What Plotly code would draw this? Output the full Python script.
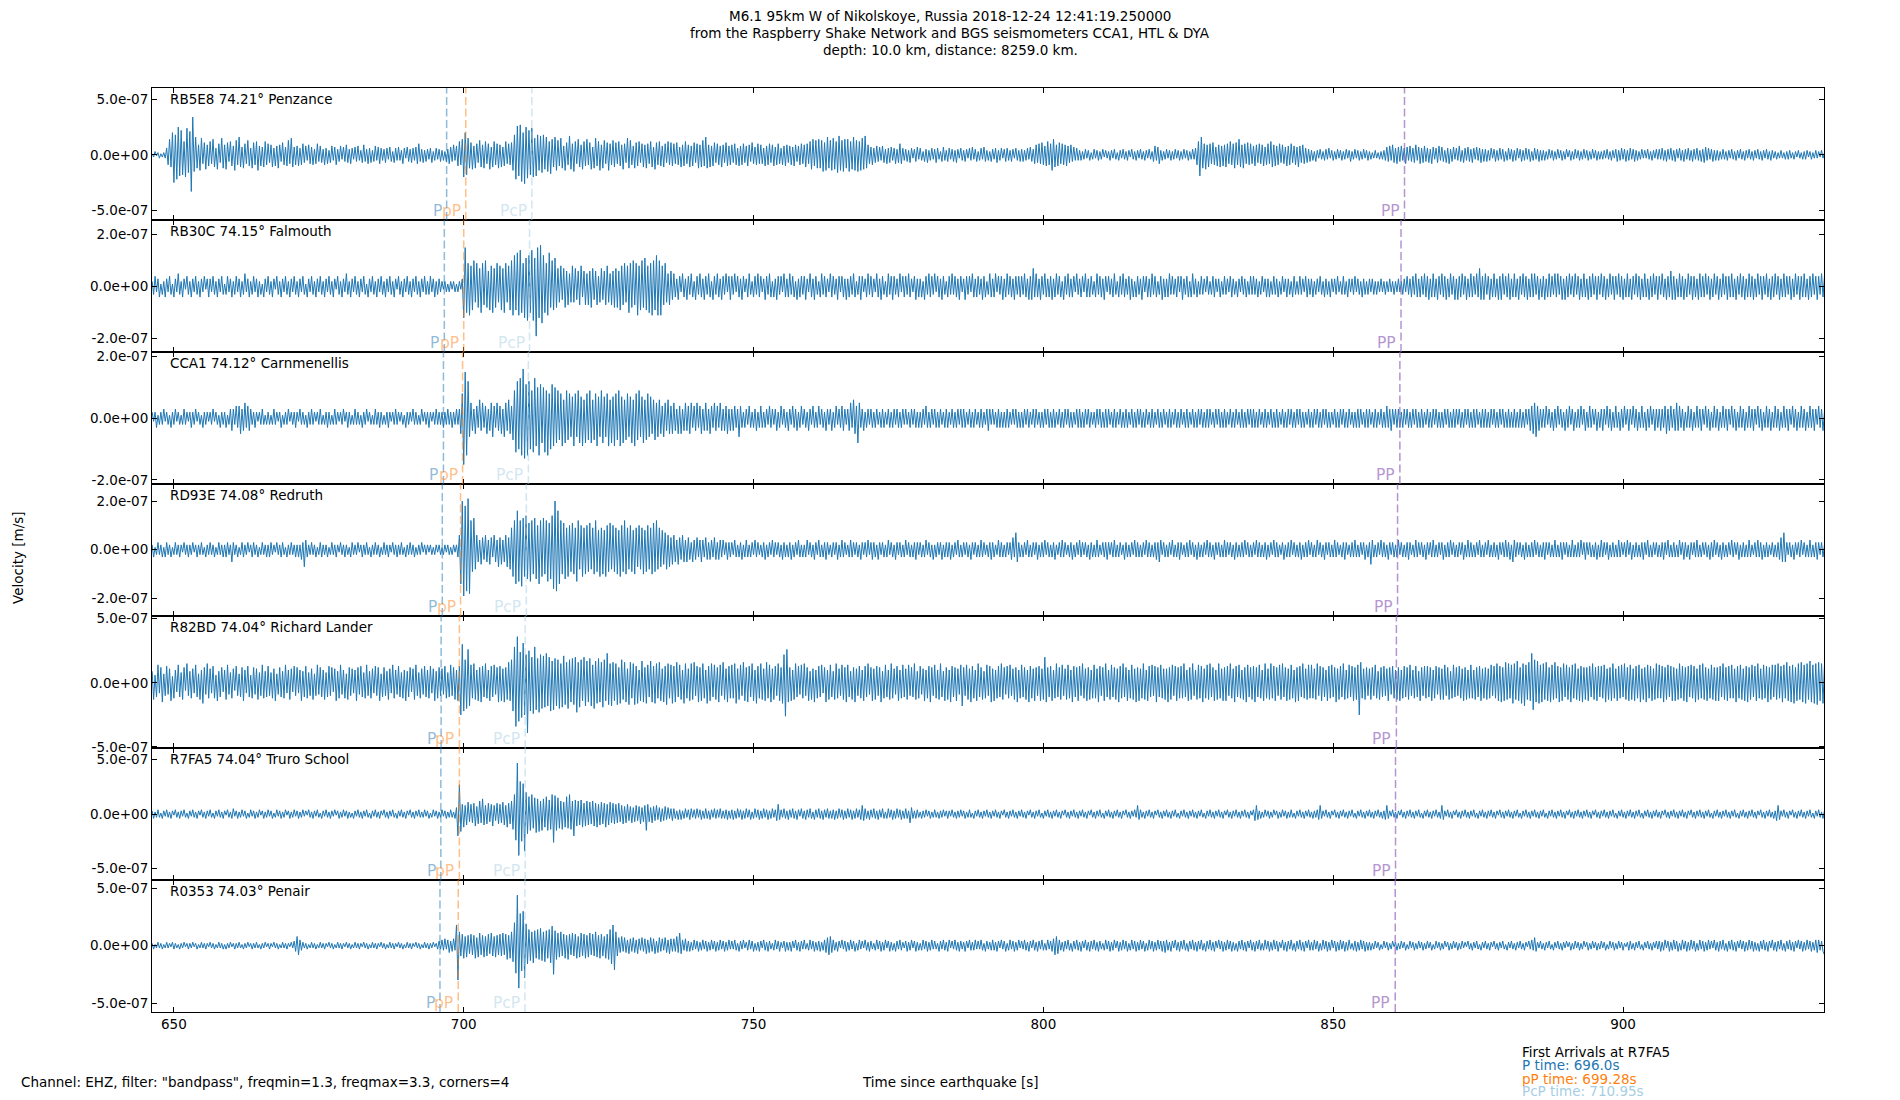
import plotly.graph_objects as go
from plotly.subplots import make_subplots

# Trace values, in units of 1e-8 m/s,
# one value every 0.25 s starting at 646.25 s after the earthquake.
# Each line below is 10 s of record.
t_start = 646.25
t_step = 0.25
amp_unit = 1e-8

rb5e8 = [
    1,-2,3,-1,2,-3,1,-2,2,-3, 6,-9,14,-11,20,-25,18,-22,25,-19, 22,-18,12,-20,24,-16,21,-33,34,-15, 16,-12,9,-14,15,-8,11,-13,9,-10,
    12,-8,14,-11,6,-13,10,-7,15,-12, 9,-13,11,-6,12,-10,8,-14,13,-9, 16,-11,7,-12,10,-8,13,-10,6,-12, 11,-9,12,-14,8,-10,7,-11,12,-9,
    10,-7,9,-11,6,-10,8,-12,9,-6, 11,-9,7,-10,13,-8,15,-11,7,-9, 8,-10,6,-9,10,-7,8,-5,9,-8, 7,-9,5,-8,10,-6,8,-7,5,-9,
    6,-8,4,-7,8,-5,7,-9,5,-6, 8,-4,7,-6,9,-7,5,-8,6,-4, 7,-6,8,-5,4,-7,9,-6,5,-8, 6,-7,4,-6,8,-5,7,-8,6,-5,
    5,-7,6,-4,7,-6,3,-7,6,-5, 7,-5,4,-8,6,-3,7,-6,5,-7, 6,-5,7,-8,10,-6,5,-7,4,-6, 5,-4,6,-7,3,-5,6,-4,5,-6,
    4,-5,3,-6,5,-8,7,-6,9,-5, 8,-10,12,-9,14,-20,20,-18,15,-12, 11,-13,8,-12,10,-7,13,-11,9,-12, 12,-8,10,-13,7,-11,12,-9,10,-12,
    9,-11,7,-10,12,-8,10,-9,11,-14, 18,-22,26,-19,27,-24,20,-26,25,-21, 22,-18,24,-20,15,-19,18,-14,17,-16, 18,-13,16,-15,12,-17,14,-11,16,-14,
    13,-10,15,-12,8,-14,11,-9,17,-13, 10,-15,12,-8,14,-11,9,-13,12,-10, 14,-9,11,-13,7,-12,15,-10,12,-14, 9,-12,13,-8,11,-14,10,-9,13,-11,
    11,-8,12,-10,9,-13,10,-7,15,-12, 13,-9,8,-12,11,-10,12,-7,10,-11, 9,-12,10,-8,12,-11,7,-13,11,-9, 12,-10,8,-11,10,-7,12,-9,11,-10,
    10,-8,11,-9,7,-11,9,-10,12,-8, 9,-11,8,-10,11,-7,10,-12,9,-11, 13,-10,16,-12,9,-11,8,-10,11,-7, 10,-9,8,-11,9,-7,11,-10,8,-9,
    9,-7,10,-9,6,-10,8,-9,10,-7, 8,-10,9,-6,11,-8,7,-9,10,-8, 9,-8,6,-10,8,-9,10,-7,9,-10, 7,-9,10,-8,6,-9,8,-10,9,-7,
    8,-9,7,-10,9,-6,8,-9,10,-8, 9,-11,10,-8,12,-13,14,-10,13,-12, 14,-12,13,-15,11,-14,16,-12,13,-14, 15,-13,12,-16,17,-14,13,-15,14,-12,
    14,-15,12,-13,16,-14,13,-15,12,-14, 15,-13,17,-12,9,-8,7,-9,6,-7, 8,-6,7,-5,8,-7,5,-8,6,-7, 7,-5,6,-8,5,-7,10,-8,6,-5,
    5,-6,4,-7,6,-3,5,-6,7,-4, 6,-5,3,-6,5,-7,4,-5,6,-4, 5,-7,6,-4,3,-6,7,-5,4,-6, 6,-4,5,-6,4,-7,5,-3,6,-5,
    4,-6,5,-3,6,-5,7,-4,5,-6, 3,-5,6,-4,7,-6,4,-5,3,-6, 5,-4,6,-7,4,-5,6,-3,5,-6, 6,-5,4,-6,5,-3,6,-5,4,-6,
    5,-6,4,-5,6,-4,7,-6,5,-8, 9,-7,10,-8,11,-9,8,-10,12,-9, 10,-14,14,-11,9,-10,11,-8,10,-9, 9,-10,8,-7,9,-6,7,-5,6,-5,
    4,-5,3,-4,5,-3,4,-5,2,-4, 5,-3,4,-5,3,-4,5,-2,4,-3, 3,-5,4,-3,5,-4,2,-5,4,-3, 5,-4,3,-5,4,-2,5,-4,3,-5,
    4,-3,5,-4,3,-5,4,-3,5,-4, 3,-6,8,-5,7,-8,4,-5,3,-4, 5,-3,4,-5,3,-4,5,-3,4,-5, 3,-4,5,-3,4,-5,3,-4,5,-4,
    6,-9,12,-19,16,-12,10,-13,9,-11, 10,-8,11,-9,7,-10,9,-11,8,-10, 9,-11,10,-8,12,-9,10,-12,11,-9, 14,-11,9,-12,10,-8,11,-9,10,-8,
    8,-10,9,-7,10,-8,9,-10,7,-9, 10,-8,12,-11,9,-10,8,-9,10,-7, 9,-8,7,-10,8,-9,10,-7,8,-9, 7,-11,8,-7,9,-8,6,-7,5,-6,
    4,-5,3,-6,4,-3,5,-4,3,-5, 5,-4,6,-3,4,-5,3,-4,5,-3, 4,-5,3,-4,5,-3,4,-6,3,-4, 5,-3,4,-5,3,-4,5,-3,4,-5,
    3,-4,2,-3,4,-3,2,-4,3,-4, 4,-5,7,-6,8,-5,9,-7,6,-8, 7,-6,8,-5,6,-8,7,-5,8,-6, 6,-7,9,-5,7,-8,6,-7,8,-6,
    6,-7,5,-8,7,-4,6,-7,8,-5, 7,-6,4,-7,6,-8,5,-6,7,-4, 6,-5,8,-6,4,-7,6,-5,7,-6, 5,-7,6,-4,7,-5,6,-7,5,-6,
    5,-6,4,-5,6,-3,5,-6,4,-5, 6,-4,5,-6,3,-5,6,-4,5,-6, 4,-5,6,-3,5,-6,4,-5,6,-4, 5,-6,3,-5,6,-4,5,-6,4,-5,
    4,-5,3,-4,5,-3,4,-5,3,-4, 5,-3,4,-5,3,-4,5,-2,4,-5, 3,-4,5,-3,4,-5,3,-4,5,-3, 4,-5,3,-4,5,-3,4,-5,3,-4,
    3,-4,4,-3,5,-4,3,-5,4,-3, 5,-6,4,-5,6,-4,5,-6,4,-5, 6,-4,5,-6,4,-5,3,-4,5,-3, 4,-3,5,-4,3,-5,4,-3,5,-4,
    5,-4,6,-5,4,-6,5,-4,6,-5, 4,-6,5,-3,6,-5,4,-6,5,-4, 6,-5,4,-6,5,-4,6,-5,4,-6, 5,-7,7,-5,6,-4,5,-6,4,-5,
    4,-5,3,-4,5,-4,3,-5,4,-3, 5,-4,3,-5,4,-3,5,-4,3,-5, 4,-3,5,-4,3,-5,4,-3,5,-4, 3,-5,4,-3,5,-4,3,-5,4,-3,
    3,-4,2,-3,4,-3,2,-4,3,-4, 4,-3,2,-4,3,-2,4,-3,2,-4, 3,-4,4,-2,3,-4,2,-3,4,-3, 3,-2,4,-3,2,
]

rb30c = [
    2,-3,4,-2,3,-4,1,-3,2,-4, 3,-2,4,-3,1,-4,3,-2,5,-3, 2,-4,3,-1,4,-3,2,-4,3,-2, 4,-3,2,-4,3,-2,4,-1,3,-4,
    3,-2,4,-3,2,-4,3,-2,4,-3, 1,-3,4,-2,3,-4,2,-3,4,-2, 3,-4,2,-3,5,-2,3,-4,2,-3, 4,-2,3,-4,2,-3,1,-4,3,-2,
    4,-3,2,-4,3,-1,4,-3,2,-4, 3,-2,4,-3,2,-4,3,-2,4,-3, 2,-4,3,-2,4,-3,1,-4,3,-2, 4,-3,2,-4,3,-2,4,-3,2,-4,
    3,-2,4,-3,2,-4,3,-1,4,-3, 2,-4,3,-2,5,-3,2,-4,3,-2, 4,-3,2,-4,3,-2,4,-3,1,-4, 3,-2,4,-3,2,-4,3,-2,4,-3,
    2,-4,3,-2,4,-3,2,-4,3,-1, 4,-3,2,-4,3,-2,4,-3,2,-4, 3,-2,4,-3,2,-4,3,-2,4,-3, 2,-3,4,-2,3,-4,2,-3,3,-2,
    2,-1,2,-2,1,-2,2,-1,2,-2, 1,-2,2,-1,3,-12,15,-10,9,-11, 8,-9,10,-6,9,-8,7,-10,9,-7, 10,-8,6,-9,8,-10,7,-8,9,-6,
    8,-9,7,-10,9,-6,8,-9,10,-11, 12,-9,13,-11,14,-10,9,-12,11,-13, 12,-10,14,-13,11,-19,15,-12,16,-14, 12,-10,9,-11,13,-8,10,-9,11,-8,
    7,-6,8,-5,7,-8,6,-7,5,-6, 8,-6,7,-5,6,-7,8,-4,6,-7, 5,-7,6,-8,7,-5,6,-7,4,-6, 7,-5,6,-7,8,-6,5,-7,6,-8,
    7,-8,6,-9,8,-7,9,-6,8,-10, 9,-8,10,-7,9,-11,8,-9,10,-8, 11,-9,8,-10,9,-11,10,-9,12,-11, 10,-11,8,-7,9,-6,5,-7,6,-5,
    5,-4,3,-5,4,-2,5,-4,3,-5, 4,-3,5,-4,2,-5,4,-3,5,-4, 3,-5,4,-3,5,-4,2,-5,4,-3, 5,-4,3,-5,4,-3,5,-2,4,-5,
    4,-3,5,-2,4,-4,3,-5,4,-2, 3,-4,5,-3,2,-4,4,-3,5,-4, 4,-2,3,-5,4,-3,5,-4,2,-4, 3,-5,4,-3,4,-2,5,-4,3,-4,
    5,-3,4,-4,2,-5,3,-4,4,-3, 4,-5,3,-2,5,-4,3,-5,4,-3, 2,-4,5,-3,4,-4,3,-2,5,-4, 4,-3,3,-5,4,-2,4,-4,3,-5,
    3,-4,4,-3,5,-4,2,-3,4,-5, 4,-2,3,-4,5,-3,4,-4,3,-2, 5,-4,3,-5,4,-3,2,-4,5,-3, 4,-5,4,-3,3,-4,5,-2,4,-4,
    4,-3,5,-4,3,-2,4,-5,3,-4, 3,-4,2,-5,4,-3,5,-4,4,-3, 5,-2,4,-4,3,-5,4,-3,2,-4, 4,-3,5,-3,4,-4,3,-5,4,-2,
    3,-5,4,-3,4,-2,5,-4,3,-4, 4,-3,3,-5,4,-4,2,-3,5,-4, 3,-4,5,-2,4,-3,4,-5,3,-4, 5,-3,4,-4,3,-5,4,-3,4,-4,
    4,-3,5,-4,3,-5,4,-5,7,-4, 5,-4,3,-5,4,-3,5,-4,3,-4, 4,-5,3,-4,5,-3,4,-4,2,-5, 4,-3,5,-4,3,-4,4,-2,5,-3,
    3,-4,4,-2,5,-4,3,-4,4,-3, 2,-4,5,-3,4,-4,3,-5,4,-2, 4,-3,3,-4,5,-3,2,-4,4,-3, 5,-4,3,-3,4,-5,3,-4,2,-4,
    4,-3,3,-5,4,-2,4,-4,3,-4, 5,-3,4,-4,2,-3,4,-5,3,-4, 3,-4,5,-3,4,-3,3,-4,4,-2, 4,-5,3,-3,4,-4,2,-4,5,-3,
    3,-4,2,-3,4,-3,3,-2,4,-3, 2,-3,4,-4,3,-2,3,-4,2,-3, 4,-3,3,-2,4,-4,3,-3,2,-4, 3,-2,4,-3,3,-4,2,-3,4,-3,
    4,-3,3,-4,2,-3,4,-2,3,-4, 3,-4,2,-3,4,-3,3,-4,2,-3, 4,-2,3,-4,3,-3,2,-4,4,-3, 2,-3,4,-3,3,-2,4,-4,3,-3,
    3,-4,2,-3,3,-2,4,-3,2,-4, 3,-3,2,-4,3,-2,3,-3,4,-2, 2,-3,4,-3,2,-4,3,-2,3,-3, 4,-2,3,-3,2,-4,3,-3,2,-3,
    3,-2,3,-3,2,-3,2,-2,3,-2, 2,-3,2,-2,3,-2,2,-3,2,-2, 3,-2,2,-3,3,-2,4,-3,3,-4, 4,-3,5,-4,3,-4,4,-3,5,-4,
    4,-5,3,-4,5,-4,3,-5,4,-3, 5,-4,4,-5,3,-4,5,-3,4,-5, 3,-5,4,-4,5,-3,4,-5,3,-4, 5,-4,4,-3,5,-4,7,-5,4,-5,
    5,-3,4,-5,3,-4,5,-4,3,-5, 4,-5,5,-3,4,-4,5,-5,3,-4, 5,-4,3,-5,4,-3,5,-4,4,-5, 3,-4,5,-4,5,-3,4,-5,3,-4,
    4,-5,3,-4,5,-4,4,-3,5,-4, 5,-3,4,-5,3,-5,4,-4,5,-3, 4,-4,5,-3,4,-5,3,-4,5,-4, 3,-5,4,-4,5,-3,4,-5,4,-3,
    5,-4,4,-5,3,-4,5,-3,4,-5, 4,-3,5,-4,4,-5,3,-4,5,-4, 3,-5,4,-3,5,-4,4,-5,3,-4, 5,-4,3,-5,4,-4,5,-3,4,-5,
    4,-3,5,-4,3,-5,4,-4,6,-5, 4,-5,3,-4,5,-4,4,-5,3,-4, 5,-3,4,-5,4,-4,3,-5,5,-4, 4,-4,5,-3,4,-5,3,-4,5,-3,
    4,-5,3,-4,5,-3,4,-5,4,-4, 5,-4,3,-5,4,-3,5,-4,4,-5, 3,-4,5,-4,4,-5,3,-4,5,-3, 4,-5,4,-3,5,-4,3,-5,4,-4,
    5,-3,4,-5,3,-4,5,-4,4,-3, 4,-5,3,-4,5,-3,4,-5,4,-4, 5,-4,3,-5,4,-4,5,-3,4,-5, 4,-3,5,-4,4,
]

cca1 = [
    2,-1,2,-3,1,-2,2,-2,3,-1, 2,-2,1,-3,2,-2,3,-1,2,-2, 1,-2,3,-2,2,-1,2,-3,2,-2, 3,-1,2,-2,1,-3,2,-2,2,-1,
    2,-2,3,-1,2,-2,1,-3,2,-2, 2,-3,1,-2,3,-4,3,-2,4,-3, 4,-5,3,-4,5,-3,4,-4,3,-2, 2,-3,2,-1,2,-2,3,-2,1,-2,
    2,-2,1,-2,3,-2,2,-1,2,-3, 1,-2,2,-2,3,-1,2,-2,2,-3, 2,-1,3,-2,2,-2,1,-3,2,-2, 3,-2,2,-1,2,-2,3,-2,1,-2,
    2,-3,2,-2,1,-2,3,-2,2,-1, 2,-2,3,-1,2,-3,2,-2,1,-2, 3,-2,2,-2,1,-3,2,-2,3,-1, 2,-2,1,-2,3,-2,2,-3,2,-2,
    1,-2,2,-3,2,-1,2,-2,3,-2, 2,-1,2,-2,1,-3,2,-2,2,-1, 3,-2,2,-2,1,-2,3,-1,2,-2, 2,-3,2,-1,2,-2,3,-2,2,-2,
    2,-3,2,-2,3,-2,2,-3,2,-2, 3,-2,3,-5,8,-15,15,-12,12,-6, 5,-4,3,-5,4,-3,6,-4,5,-3, 4,-5,3,-4,5,-6,4,-3,5,-4,
    4,-5,3,-6,5,-4,6,-5,4,-7, 9,-11,12,-10,13,-12,16,-13,11,-12, 12,-10,9,-11,13,-9,10,-12,11,-8, 10,-11,9,-12,8,-10,11,-9,10,-8,
    9,-7,8,-9,6,-8,9,-7,8,-6, 7,-9,8,-6,9,-8,7,-9,6,-8, 8,-7,9,-8,6,-7,8,-9,7,-6, 9,-8,7,-6,8,-9,6,-8,7,-9,
    8,-7,9,-9,7,-8,6,-7,8,-6, 7,-8,6,-9,8,-7,9,-6,7,-8, 6,-7,8,-6,7,-5,6,-7,5,-6, 6,-5,4,-6,5,-4,6,-5,4,-5,
    5,-4,3,-5,4,-5,3,-4,5,-4, 4,-5,5,-3,4,-4,5,-3,4,-5, 3,-4,5,-4,3,-5,4,-3,5,-4, 4,-3,5,-4,3,-4,4,-5,3,-4,
    3,-4,4,-3,3,-6,4,-3,2,-3, 3,-2,4,-3,2,-3,3,-4,2,-3, 4,-3,2,-3,3,-2,4,-3,3,-2, 3,-4,2,-3,4,-2,3,-3,2,-4,
    3,-2,4,-3,3,-4,2,-3,4,-2, 3,-3,2,-4,3,-2,4,-3,2,-3, 4,-2,3,-3,2,-4,3,-2,3,-4, 2,-3,4,-2,3,-3,4,-4,3,-2,
    3,-4,5,-3,6,-5,4,-8,5,-3, 3,-4,2,-3,3,-2,3,-3,2,-3, 3,-2,2,-3,3,-3,2,-2,3,-3, 2,-3,3,-2,3,-3,2,-3,3,-2,
    3,-2,2,-3,3,-2,3,-3,2,-3, 2,-3,3,-2,4,-3,2,-3,3,-2, 3,-3,2,-3,3,-2,2,-3,3,-3, 2,-2,3,-3,2,-3,3,-2,3,-3,
    3,-3,2,-2,3,-3,2,-3,3,-2, 2,-3,3,-3,2,-2,3,-4,3,-2, 3,-2,2,-3,3,-3,2,-3,2,-3, 3,-3,2,-2,3,-2,3,-3,2,-3,
    2,-3,3,-2,3,-3,2,-2,3,-3, 3,-2,2,-3,2,-3,3,-2,3,-3, 2,-3,3,-3,2,-2,3,-3,2,-3, 3,-2,3,-3,2,-3,2,-2,3,-3,
    3,-3,2,-3,3,-2,3,-3,2,-2, 2,-3,3,-2,3,-3,2,-3,3,-3, 3,-2,2,-3,3,-3,2,-2,3,-3, 2,-3,3,-3,2,-2,3,-3,2,-3,
    3,-2,3,-3,2,-3,3,-2,2,-3, 3,-3,2,-2,3,-3,2,-3,3,-2, 2,-3,3,-3,2,-2,3,-3,2,-3, 3,-2,2,-3,3,-3,2,-2,3,-3,
    2,-3,3,-2,3,-3,2,-3,3,-3, 3,-2,2,-3,3,-2,3,-3,2,-3, 3,-3,2,-2,3,-3,2,-3,3,-2, 2,-3,3,-3,2,-3,3,-2,3,-3,
    3,-3,2,-3,3,-2,2,-3,3,-3, 2,-2,3,-3,2,-3,3,-3,2,-2, 3,-3,2,-3,3,-2,3,-3,2,-3, 3,-2,3,-3,2,-3,2,-2,3,-3,
    2,-3,3,-2,3,-3,2,-3,3,-2, 3,-3,2,-3,2,-2,3,-3,2,-3, 3,-2,3,-3,2,-3,3,-2,2,-3, 2,-3,3,-3,3,-2,2,-3,3,-3,
    3,-2,2,-3,3,-3,2,-2,3,-3, 2,-3,4,-3,3,-4,3,-2,3,-3, 3,-3,2,-3,3,-2,3,-3,2,-3, 3,-2,3,-3,2,-3,3,-3,2,-2,
    3,-3,2,-3,3,-2,3,-3,2,-3, 2,-3,3,-2,3,-3,2,-3,3,-3, 3,-2,3,-3,2,-3,3,-2,3,-3, 2,-3,3,-3,3,-2,2,-3,3,-3,
    3,-3,2,-3,3,-2,3,-3,2,-3, 3,-2,3,-3,2,-3,3,-3,2,-3, 3,-3,2,-3,3,-3,2,-3,3,-2, 3,-4,4,-5,5,-6,4,-4,3,-3,
    3,-3,4,-2,3,-3,2,-4,3,-3, 4,-2,3,-3,2,-4,3,-3,4,-2, 3,-4,2,-3,3,-3,4,-2,3,-4, 2,-3,4,-3,3,-2,3,-4,2,-3,
    3,-4,3,-2,4,-3,3,-4,2,-3, 4,-3,2,-4,3,-3,4,-2,3,-4, 3,-2,4,-3,3,-4,2,-3,4,-3, 2,-4,3,-3,4,-2,3,-4,3,-3,
    3,-4,3,-3,4,-5,3,-4,4,-3, 3,-4,5,-4,4,-3,3,-4,2,-3, 4,-3,3,-4,2,-3,4,-3,3,-4, 3,-2,4,-3,3,-4,2,-3,4,-3,
    3,-4,2,-3,4,-3,3,-4,3,-2, 4,-3,3,-4,2,-3,4,-3,3,-4, 2,-3,4,-3,3,-4,3,-2,4,-3, 3,-4,2,-3,4,-3,3,-4,2,-3,
    4,-3,3,-4,2,-3,4,-3,3,-4, 3,-2,4,-3,3,-4,2,-3,4,-3, 3,-4,2,-3,4,-3,3,-4,3,-2, 4,-3,3,-4,2,
]

rd93e = [
    2,-3,1,-2,3,-2,2,-3,1,-3, 3,-2,2,-3,1,-2,3,-2,2,-3, 2,-1,3,-2,2,-3,2,-2,3,-1, 2,-3,2,-2,3,-2,1,-3,2,-2,
    3,-2,2,-3,1,-2,3,-2,2,-3, 2,-3,3,-2,2,-5,3,-2,2,-3, 1,-2,3,-3,2,-2,3,-1,2,-3, 3,-2,2,-3,1,-2,3,-2,2,-3,
    2,-3,3,-2,2,-1,3,-2,2,-3, 3,-2,1,-3,2,-2,3,-2,2,-3, 2,-3,2,-4,3,-7,4,-3,2,-2, 3,-2,2,-3,1,-2,3,-3,2,-2,
    2,-3,1,-2,3,-2,2,-3,2,-1, 3,-2,2,-3,2,-2,1,-3,3,-2, 2,-2,3,-1,2,-3,2,-2,3,-2, 1,-3,2,-2,3,-2,2,-3,1,-2,
    3,-2,2,-3,2,-1,3,-2,2,-3, 2,-2,3,-2,1,-3,2,-2,3,-2, 2,-3,1,-2,2,-2,3,-1,2,-2, 2,-1,2,-2,1,-2,2,-1,2,-2,
    1,-2,2,-1,2,-2,1,-2,2,-1, 2,-3,6,-14,20,-19,18,-17,21,-18, 12,-9,13,-8,6,-5,4,-6,5,-4, 6,-5,4,-6,5,-3,6,-5,4,-7,
    5,-6,4,-5,6,-7,5,-8,9,-11, 12,-14,16,-13,12,-15,13,-11,14,-12, 11,-13,12,-10,13,-12,10,-14,12,-11, 13,-10,12,-13,11,-12,14,-16,20,-17,
    16,-14,12,-10,11,-12,9,-11,10,-9, 11,-10,9,-13,12,-8,10,-11,9,-10, 10,-9,11,-8,9,-10,12,-9,8,-11, 9,-10,8,-11,10,-9,11,-8,10,-9,
    9,-10,8,-11,10,-9,12,-10,9,-8, 10,-9,8,-10,9,-7,10,-8,9,-10, 8,-9,10,-8,9,-10,11,-9,12,-8, 9,-7,8,-6,7,-8,6,-7,5,-6,
    6,-5,4,-6,5,-4,6,-5,4,-5, 5,-4,3,-5,4,-4,5,-3,4,-5, 4,-3,5,-4,3,-4,4,-3,5,-4, 3,-4,4,-3,4,-2,3,-4,3,-3,
    3,-2,4,-3,2,-3,3,-4,2,-3, 4,-3,2,-3,3,-2,4,-3,3,-2, 2,-3,3,-4,2,-3,3,-2,4,-3, 3,-2,3,-3,2,-4,3,-3,2,-3,
    3,-4,2,-3,3,-2,4,-3,2,-3, 2,-3,4,-2,3,-3,2,-4,3,-2, 4,-3,2,-3,3,-4,3,-2,2,-3, 3,-2,3,-4,2,-3,4,-3,3,-2,
    2,-3,4,-3,3,-2,3,-3,2,-4, 3,-2,3,-3,4,-2,3,-4,3,-3, 2,-4,3,-2,3,-3,2,-3,4,-2, 3,-3,2,-4,3,-2,3,-3,2,-3,
    4,-2,3,-3,2,-3,3,-4,3,-2, 3,-3,2,-3,4,-2,3,-3,2,-4, 2,-3,3,-2,3,-4,2,-3,3,-3, 3,-4,2,-3,3,-2,4,-3,2,-3,
    3,-2,3,-3,2,-4,3,-2,3,-3, 2,-3,4,-3,3,-2,2,-3,3,-4, 3,-3,2,-2,4,-3,3,-3,2,-3, 3,-2,3,-4,5,-3,7,-5,3,-3,
    2,-3,3,-2,4,-3,2,-3,3,-2, 3,-4,2,-3,3,-3,4,-2,3,-3, 2,-3,3,-4,2,-2,3,-3,4,-3, 3,-2,2,-3,3,-4,2,-3,3,-2,
    4,-3,3,-2,3,-3,2,-4,3,-3, 2,-3,4,-3,2,-2,3,-3,3,-4, 3,-2,3,-3,4,-3,2,-3,3,-2, 2,-4,3,-3,2,-3,3,-2,4,-3,
    3,-3,2,-3,3,-2,4,-3,3,-3, 2,-3,3,-4,3,-5,4,-2,3,-3, 2,-3,3,-2,4,-3,2,-3,3,-4, 3,-2,2,-3,3,-3,4,-2,3,-3,
    2,-4,3,-3,2,-3,3,-2,4,-3, 3,-3,2,-4,3,-2,3,-3,2,-3, 4,-3,3,-2,3,-3,2,-4,3,-3, 2,-3,3,-3,4,-2,3,-3,2,-3,
    3,-2,4,-3,3,-3,2,-3,3,-4, 2,-3,3,-2,4,-3,3,-3,2,-2, 3,-4,2,-3,3,-3,4,-2,3,-3, 2,-3,3,-4,2,-3,3,-3,4,-2,
    3,-3,2,-3,4,-2,3,-3,2,-4, 3,-2,3,-3,2,-3,4,-3,3,-2, 2,-3,3,-4,3,-2,2,-3,3,-3, 4,-3,2,-3,3,-2,3,-4,2,-3,
    3,-6,4,-3,2,-3,3,-2,4,-3, 3,-3,2,-4,3,-2,3,-3,2,-3, 4,-2,3,-3,2,-3,3,-4,3,-2, 2,-3,4,-3,3,-2,3,-3,2,-4,
    3,-2,3,-3,4,-3,2,-3,3,-2, 3,-4,2,-3,3,-3,4,-2,3,-3, 2,-3,3,-2,3,-4,2,-3,4,-3, 3,-3,2,-3,3,-2,4,-3,2,-3,
    3,-2,4,-3,2,-3,3,-3,2,-4, 3,-2,3,-3,4,-3,3,-4,2,-5, 4,-3,3,-2,3,-3,2,-4,3,-3, 2,-3,3,-3,4,-2,3,-3,2,-3,
    3,-4,3,-2,3,-3,2,-3,4,-3, 2,-3,3,-4,3,-2,3,-3,2,-3, 4,-3,2,-3,3,-3,4,-2,3,-4, 3,-2,3,-3,2,-3,3,-4,2,-3,
    4,-3,3,-2,3,-4,2,-3,3,-3, 2,-3,4,-3,3,-2,3,-3,4,-2, 3,-4,2,-3,3,-3,2,-3,3,-4, 3,-2,4,-3,2,-3,3,-2,3,-3,
    2,-3,3,-4,3,-2,4,-3,2,-3, 3,-3,2,-3,4,-2,3,-4,3,-3, 2,-4,3,-2,3,-3,4,-3,2,-3, 3,-2,3,-3,2,-4,3,-3,4,-2,
    3,-3,2,-4,3,-3,2,-3,3,-2, 4,-3,3,-2,3,-4,2,-3,3,-3, 2,-3,4,-3,2,-2,3,-3,4,-3, 3,-4,2,-3,3,-3,2,-2,3,-3,
    2,-3,3,-4,5,-5,7,-5,3,-2, 3,-3,2,-4,3,-2,3,-3,4,-2, 3,-3,2,-3,4,-3,2,-3,3,-4, 3,-2,3,-3,2,
]

r82bd = [
    9,-13,6,-11,14,-8,12,-15,7,-10, 13,-9,11,-14,5,-12,10,-7,14,-11, 8,-13,12,-6,15,-10,9,-12,11,-8, 14,-11,7,-13,10,-16,12,-9,15,-12,
    11,-8,13,-12,6,-14,9,-11,12,-7, 10,-13,14,-9,8,-12,11,-6,13,-10, 7,-11,12,-14,10,-8,13,-11,6,-12, 12,-9,11,-13,8,-10,14,-12,9,-11,
    13,-10,8,-12,11,-14,7,-9,12,-11, 9,-12,14,-8,10,-13,11,-7,13,-10, 12,-8,10,-14,9,-11,13,-12,8,-10, 11,-13,7,-10,14,-9,12,-11,10,-13,
    8,-11,13,-10,12,-7,11,-14,9,-12, 14,-9,10,-12,7,-13,12,-10,11,-8, 10,-14,12,-9,13,-11,8,-12,14,-10, 9,-12,11,-8,13,-10,12,-14,7,-11,
    12,-10,9,-13,11,-8,14,-12,10,-9, 13,-11,8,-12,10,-14,9,-11,12,-7, 11,-13,14,-10,8,-12,11,-9,13,-11, 10,-12,13,-8,11,-14,9,-12,12,-10,
    11,-9,13,-12,8,-11,14,-10,12,-13, 10,-14,13,-25,30,-22,18,-20,26,-18, 14,-12,15,-13,10,-14,12,-15,13,-11, 15,-12,10,-14,13,-11,14,-9,12,-15,
    13,-14,11,-15,12,-13,16,-14,18,-22, 28,-34,36,-30,24,-27,31,-25,22,-39, 25,-22,20,-24,28,-21,19,-23,22,-20, 21,-19,23,-18,20,-22,17,-21,19,-18,
    18,-20,15,-19,21,-17,16,-20,18,-15, 19,-17,20,-23,16,-19,18,-14,20,-18, 17,-15,19,-18,14,-20,17,-16,19,-15, 16,-19,18,-14,23,-17,15,-18,16,-14,
    15,-17,12,-16,18,-13,16,-15,11,-17, 16,-12,15,-17,13,-16,10,-14,17,-15, 12,-16,14,-11,17,-15,13,-16,15,-12, 16,-14,11,-15,13,-17,15,-12,14,-16,
    13,-15,16,-11,14,-13,10,-16,15,-12, 11,-14,15,-13,16,-10,13,-15,12,-14, 15,-12,10,-16,13,-14,15,-11,14,-13, 12,-15,14,-10,16,-13,11,-15,13,-12,
    14,-12,15,-16,11,-13,14,-10,16,-14, 12,-15,13,-11,15,-14,10,-16,13,-12, 15,-13,11,-14,16,-12,14,-15,11,-13, 13,-10,15,-14,12,-16,22,-26,26,-15,
    12,-14,10,-13,15,-11,13,-9,14,-12, 15,-10,12,-14,9,-13,11,-15,10,-12, 13,-11,14,-8,12,-15,10,-13,14,-11, 9,-13,15,-12,11,-10,14,-13,12,-15,
    14,-11,9,-13,12,-15,11,-10,13,-12, 10,-14,13,-11,15,-9,12,-14,11,-13, 13,-10,12,-15,9,-12,14,-11,10,-13, 15,-12,11,-9,13,-14,10,-12,14,-11,
    11,-13,14,-10,12,-11,15,-13,9,-12, 13,-9,11,-14,10,-12,13,-15,12,-10, 14,-12,10,-13,15,-11,9,-14,12,-13, 10,-15,13,-11,12,-14,11,-9,14,-18,
    12,-10,14,-13,11,-15,13,-12,10,-14, 15,-11,12,-13,9,-12,14,-10,13,-15, 11,-14,10,-12,13,-11,15,-13,12,-9, 13,-12,14,-10,11,-13,12,-15,10,-12,
    14,-11,12,-13,10,-15,13,-12,11,-14, 12,-10,13,-14,11,-13,20,-15,12,-11, 13,-14,10,-12,15,-11,12,-13,14,-10, 11,-13,14,-12,10,-15,13,-11,12,-14,
    13,-10,15,-12,11,-14,12,-13,10,-12, 14,-12,11,-15,13,-10,12,-14,15,-11, 10,-13,14,-11,12,-13,11,-15,13,-12, 15,-11,12,-14,10,-12,14,-13,11,-15,
    12,-14,11,-12,15,-13,10,-14,13,-11, 14,-10,13,-15,12,-11,14,-12,11,-13, 11,-15,12,-13,14,-10,13,-14,12,-12, 13,-12,15,-11,10,-14,12,-13,15,-10,
    10,-13,14,-12,13,-15,11,-12,14,-13, 15,-11,12,-14,10,-13,15,-12,11,-14, 12,-14,13,-10,15,-12,11,-15,13,-11, 14,-12,10,-13,12,-15,14,-11,12,-13,
    13,-15,12,-11,14,-12,10,-14,15,-12, 11,-13,15,-12,13,-14,12,-10,14,-13, 15,-11,12,-14,11,-13,14,-12,10,-15, 12,-14,13,-11,15,-12,11,-13,14,-12,
    14,-12,11,-13,15,-10,13,-14,12,-11, 10,-14,13,-12,14,-11,12,-15,11,-13, 13,-11,15,-13,10,-12,14,-11,13,-14, 12,-13,14,-25,16,-12,11,-13,12,-10,
    11,-13,12,-10,14,-12,9,-13,12,-11, 13,-10,11,-14,12,-9,13,-12,10,-13, 12,-14,10,-12,13,-11,12,-13,14,-10, 10,-12,13,-11,9,-14,12,-10,13,-12,
    13,-11,12,-14,10,-12,13,-9,12,-13, 11,-13,14,-10,12,-13,9,-12,14,-11, 12,-10,13,-12,11,-14,12,-13,10,-12, 14,-12,10,-13,12,-11,13,-14,11,-12,
    12,-13,11,-12,14,-10,13,-12,15,-14, 13,-15,12,-14,16,-13,15,-12,14,-16, 15,-13,17,-14,12,-16,15,-18,14,-13, 16,-14,23,-21,18,-15,17,-16,14,-15,
    15,-13,16,-14,12,-15,14,-13,16,-12, 13,-15,12,-14,15,-11,14,-13,12,-15, 14,-12,15,-13,11,-14,13,-15,12,-13, 12,-14,13,-11,15,-13,12,-14,13,-11,
    13,-12,14,-15,11,-13,12,-14,15,-12, 11,-14,13,-12,14,-11,15,-13,12,-14, 14,-13,11,-14,13,-12,14,-15,11,-13, 12,-15,14,-12,13,-14,11,-13,15,-12,
    14,-12,13,-15,12,-13,14,-11,13,-14, 12,-14,11,-13,15,-12,13,-14,12,-15, 13,-11,14,-12,13,-15,11,-13,14,-12, 15,-13,12,-14,11,-12,14,-13,12,-14,
    12,-14,13,-11,15,-13,12,-14,13,-12, 14,-12,11,-15,13,-12,14,-13,11,-14, 13,-15,12,-13,14,-11,13,-14,15,-12, 11,-13,14,-12,13,-15,12,-13,14,-11,
    14,-13,15,-12,13,-15,14,-12,16,-14, 13,-15,14,-16,12,-14,15,-13,16,-15, 14,-16,15,-13,17,-15,14,-16,15,-17, 16,-14,15,-16,14,
]

r7fa5 = [
    3,-4,2,-3,4,-3,1,-4,3,-2, 4,-3,2,-4,3,-1,4,-3,2,-4, 3,-2,4,-3,1,-4,3,-2,4,-3, 2,-4,3,-1,4,-3,2,-4,3,-2,
    4,-3,1,-4,3,-2,4,-3,2,-4, 3,-1,4,-3,2,-4,5,-2,3,-4, 2,-3,4,-2,3,-4,1,-3,4,-2, 3,-4,2,-3,4,-1,3,-4,2,-3,
    4,-2,3,-4,1,-3,4,-2,3,-4, 2,-3,4,-1,3,-4,2,-3,4,-2, 3,-4,2,-3,4,-2,3,-1,4,-3, 2,-4,3,-2,4,-3,1,-4,3,-2,
    4,-3,2,-4,3,-2,4,-1,3,-4, 2,-3,4,-2,3,-4,2,-3,1,-4, 3,-2,4,-3,2,-4,3,-2,4,-3, 1,-4,3,-2,4,-3,2,-4,3,-1,
    4,-3,2,-4,3,-2,4,-3,1,-4, 3,-2,4,-3,2,-4,3,-1,4,-3, 2,-4,3,-2,4,-3,2,-3,4,-2, 3,-4,1,-3,4,-2,3,-4,2,-3,
    4,-2,3,-4,2,-3,4,-3,2,-4, 6,-20,27,-16,9,-12,8,-10,11,-7, 9,-8,10,-11,7,-9,12,-8,14,-10, 8,-9,10,-7,9,-11,8,-6,10,-9,
    9,-8,11,-10,8,-12,10,-9,12,-14, 18,-24,47,-38,30,-25,28,-34,20,-18, 16,-15,18,-13,15,-17,14,-16,12,-15, 14,-12,16,-15,13,-14,18,-26,17,-15,
    15,-13,12,-14,11,-12,16,-13,18,-14, 12,-20,13,-11,12,-10,13,-12,10,-11, 12,-10,11,-9,12,-11,10,-12,9,-10, 11,-9,10,-12,9,-10,11,-8,10,-9,
    9,-8,10,-7,8,-9,7,-8,9,-6, 7,-8,6,-7,8,-6,7,-9,6,-7, 8,-15,9,-7,6,-8,7,-6,8,-5, 6,-7,5,-6,7,-5,6,-4,5,-6,
    5,-4,3,-5,4,-5,3,-4,5,-3, 4,-5,5,-3,4,-4,5,-3,4,-5, 3,-4,5,-4,3,-5,4,-3,5,-4, 4,-3,5,-4,3,-4,4,-5,3,-4,
    4,-5,3,-4,5,-3,4,-5,3,-4, 5,-3,4,-5,2,-4,5,-3,4,-5, 3,-4,5,-3,4,-5,3,-4,5,-3, 4,-6,9,-5,4,-3,5,-4,3,-5,
    4,-3,5,-4,3,-5,4,-2,5,-4, 3,-5,4,-3,5,-4,2,-5,4,-3, 5,-4,3,-5,4,-3,5,-4,3,-4, 4,-5,3,-4,5,-3,4,-5,3,-4,
    5,-3,4,-5,3,-4,5,-3,4,-5, 8,-6,5,-4,3,-5,4,-3,5,-4, 3,-5,4,-3,5,-4,2,-4,5,-3, 4,-5,3,-4,5,-3,4,-5,3,-4,
    5,-4,3,-8,6,-4,3,-4,4,-3, 2,-4,3,-3,4,-2,3,-4,2,-3, 4,-3,2,-4,3,-3,4,-2,3,-4, 3,-2,4,-3,2,-4,3,-3,4,-2,
    3,-4,2,-3,4,-3,1,-4,3,-2, 4,-3,2,-4,3,-2,4,-3,2,-4, 3,-2,4,-3,2,-4,3,-1,4,-3, 2,-4,3,-2,4,-3,2,-4,3,-2,
    4,-3,2,-4,3,-1,4,-3,2,-4, 3,-2,4,-3,1,-4,3,-2,4,-3, 2,-4,3,-2,4,-3,2,-4,3,-1, 4,-3,2,-4,3,-2,4,-3,2,-4,
    3,-2,4,-3,2,-4,3,-1,4,-3, 2,-4,3,-2,4,-3,1,-4,3,-2, 4,-3,2,-4,3,-2,4,-3,2,-4, 3,-1,4,-3,2,-4,3,-2,4,-3,
    8,-5,4,-3,2,-4,3,-2,4,-3, 2,-4,3,-1,4,-3,2,-4,3,-2, 4,-3,2,-4,3,-2,4,-3,1,-4, 3,-2,4,-3,2,-4,3,-2,4,-3,
    2,-4,3,-2,4,-3,1,-4,3,-2, 4,-3,2,-4,3,-2,4,-3,2,-4, 3,-1,4,-3,2,-4,3,-2,4,-3, 2,-4,3,-2,4,-3,2,-4,3,-1,
    4,-6,8,-5,3,-4,2,-3,4,-2, 3,-4,2,-3,4,-1,3,-4,2,-3, 4,-2,3,-4,2,-3,4,-3,1,-4, 3,-2,4,-3,2,-4,3,-2,4,-3,
    2,-4,3,-3,4,-5,8,-4,3,-2, 4,-3,2,-4,3,-1,4,-3,2,-4, 3,-2,4,-3,2,-4,3,-2,4,-3, 1,-4,3,-2,4,-3,2,-4,3,-2,
    4,-3,2,-4,3,-2,4,-3,2,-4, 3,-5,8,-4,3,-2,4,-3,2,-4, 3,-1,4,-3,2,-4,3,-2,4,-3, 2,-4,3,-2,4,-3,1,-4,3,-2,
    4,-3,2,-4,3,-2,4,-3,2,-4, 8,-5,3,-2,4,-3,2,-4,3,-1, 4,-3,2,-4,3,-2,4,-3,2,-4, 3,-2,4,-3,1,-4,3,-2,4,-3,
    2,-4,3,-2,4,-3,2,-4,3,-1, 4,-3,2,-4,3,-2,4,-3,2,-4, 3,-2,4,-3,1,-4,3,-2,4,-3, 2,-4,3,-2,4,-3,2,-4,3,-2,
    4,-3,1,-4,3,-2,4,-3,2,-4, 3,-2,4,-3,2,-4,3,-1,4,-3, 2,-4,3,-2,4,-3,2,-4,3,-2, 4,-3,2,-4,3,-1,4,-3,2,-4,
    3,-2,4,-3,2,-4,3,-2,4,-3, 1,-4,3,-2,4,-3,2,-4,3,-2, 4,-3,2,-4,3,-2,4,-3,1,-4, 3,-2,4,-3,2,-4,3,-2,4,-3,
    2,-4,3,-1,4,-3,2,-4,3,-2, 4,-3,2,-4,3,-2,4,-3,2,-4, 3,-1,4,-3,2,-4,3,-2,4,-3, 2,-4,3,-2,4,-3,1,-4,3,-2,
    4,-3,2,-4,3,-2,4,-3,2,-4, 3,-2,4,-3,1,-4,3,-2,4,-3, 2,-4,3,-2,4,-3,2,-4,3,-1, 4,-3,2,-4,3,-2,4,-3,2,-4,
    3,-6,8,-5,3,-2,4,-3,2,-4, 3,-1,4,-3,2,-4,3,-2,4,-3, 2,-4,3,-2,4,-3,1,-4,3,-2, 4,-3,2,-4,3,
]

r0353 = [
    2,-3,1,-2,3,-2,2,-3,1,-2, 3,-2,2,-1,3,-3,2,-2,1,-3, 2,-2,3,-1,2,-3,2,-2,3,-1, 2,-3,1,-2,3,-2,2,-3,2,-1,
    3,-2,2,-3,1,-2,3,-2,2,-3, 1,-3,2,-2,3,-1,2,-3,2,-2, 3,-2,1,-3,2,-2,3,-1,2,-3, 2,-2,3,-2,1,-3,2,-2,3,-1,
    2,-3,2,-1,3,-2,2,-3,1,-2, 3,-2,2,-3,2,-1,3,-2,4,-5, 8,-8,5,-4,3,-2,2,-3,1,-2, 3,-2,2,-3,1,-2,3,-2,2,-3,
    2,-1,3,-2,2,-3,1,-2,3,-2, 2,-3,2,-1,3,-2,2,-3,1,-2, 3,-2,2,-3,2,-1,3,-2,2,-3, 1,-2,3,-2,2,-3,2,-1,3,-2,
    2,-3,1,-2,3,-2,2,-3,2,-1, 3,-2,2,-3,1,-2,3,-2,2,-3, 2,-1,3,-2,2,-3,1,-2,3,-2, 2,-3,2,-2,3,-1,2,-3,4,-3,
    5,-4,6,-3,5,-6,4,-5,6,-4, 18,-30,12,-9,10,-11,8,-10,9,-7, 10,-8,9,-11,7,-10,11,-8,9,-10, 8,-9,10,-7,11,-9,8,-10,9,-8,
    10,-9,11,-8,10,-12,9,-11,12,-14, 20,-24,44,-37,28,-22,30,-28,19,-16, 14,-13,12,-15,13,-11,14,-12,15,-13, 12,-14,13,-11,14,-15,17,-25,13,-12,
    11,-10,12,-9,10,-11,9,-12,10,-8, 11,-9,10,-11,8,-10,11,-9,10,-11, 9,-10,11,-8,10,-9,12,-10,9,-11, 10,-9,8,-11,10,-12,14,-16,18,-21,
    12,-9,7,-6,8,-5,7,-6,5,-7, 6,-5,7,-6,5,-7,6,-4,7,-5, 6,-7,5,-6,7,-5,6,-7,4,-6, 7,-5,6,-4,7,-6,5,-7,6,-5,
    6,-5,8,-6,11,-7,5,-4,6,-5, 4,-5,3,-4,5,-3,4,-5,3,-4, 5,-3,4,-5,3,-4,5,-3,4,-5, 3,-4,5,-3,4,-5,3,-4,5,-3,
    4,-3,5,-4,2,-5,4,-3,5,-2, 3,-4,5,-3,4,-5,2,-4,3,-5, 4,-2,5,-4,3,-5,4,-3,2,-4, 5,-3,4,-5,3,-2,4,-5,3,-4,
    3,-5,4,-2,5,-4,3,-5,4,-3, 5,-3,2,-4,5,-3,4,-5,3,-4, 4,-5,3,-4,5,-6,7,-8,8,-6, 5,-4,3,-5,4,-2,5,-3,4,-5,
    3,-4,5,-3,4,-5,2,-4,5,-3, 4,-2,5,-4,3,-5,4,-3,2,-4, 5,-3,4,-5,3,-4,5,-2,4,-5, 3,-4,2,-5,4,-3,5,-4,3,-2,
    4,-5,3,-4,5,-2,4,-5,3,-4, 2,-4,5,-3,4,-5,3,-4,5,-3, 4,-3,2,-5,4,-3,5,-4,3,-5, 5,-2,4,-3,5,-4,3,-5,4,-3,
    3,-5,4,-2,5,-4,3,-4,5,-3, 4,-3,5,-4,2,-5,4,-3,3,-4, 5,-4,3,-5,4,-2,5,-3,4,-5, 2,-4,5,-3,4,-5,3,-4,5,-2,
    4,-3,5,-4,3,-5,4,-2,5,-4, 3,-5,4,-3,5,-4,2,-4,5,-3, 4,-5,6,-8,8,-7,5,-4,3,-5, 4,-3,5,-4,2,-5,4,-3,5,-4,
    3,-5,4,-2,5,-4,3,-5,4,-3, 5,-4,3,-5,4,-3,2,-4,5,-3, 4,-5,3,-4,5,-2,4,-5,3,-4, 5,-3,4,-5,2,-4,5,-3,4,-5,
    3,-4,5,-3,4,-5,2,-4,5,-3, 4,-5,3,-4,5,-3,4,-5,4,-6, 5,-4,3,-5,4,-2,5,-4,3,-5, 4,-3,5,-4,2,-5,4,-3,5,-4,
    3,-5,4,-3,5,-4,2,-5,4,-3, 5,-4,3,-5,4,-2,5,-3,4,-5, 3,-4,5,-3,4,-5,3,-4,2,-5, 4,-3,5,-4,3,-5,4,-2,5,-4,
    3,-5,4,-3,5,-4,2,-4,5,-3, 4,-5,3,-4,5,-3,4,-5,3,-2, 5,-4,3,-5,4,-3,5,-4,2,-5, 4,-3,5,-4,3,-5,4,-2,5,-4,
    3,-4,5,-3,4,-5,2,-4,5,-3, 4,-5,3,-4,5,-2,4,-5,3,-4, 5,-3,4,-5,3,-4,5,-3,2,-4, 4,-5,3,-4,5,-3,4,-5,3,-4,
    3,-4,2,-3,4,-2,3,-4,1,-3, 4,-2,3,-4,2,-3,4,-1,3,-4, 2,-3,4,-2,3,-4,1,-3,4,-2, 3,-4,2,-3,4,-2,3,-4,2,-3,
    4,-2,3,-4,1,-3,4,-2,3,-4, 2,-3,4,-1,3,-4,2,-3,4,-2, 3,-4,2,-3,4,-2,3,-1,4,-3, 2,-4,3,-2,4,-3,1,-4,3,-2,
    4,-3,2,-4,3,-1,4,-3,2,-4, 3,-2,4,-3,1,-4,3,-2,4,-3, 2,-4,3,-2,4,-3,2,-4,3,-1, 4,-3,5,-4,7,-5,3,-2,4,-3,
    2,-4,3,-2,4,-3,1,-4,3,-2, 4,-3,2,-4,3,-2,4,-1,3,-4, 2,-3,4,-2,3,-4,2,-3,4,-1, 3,-4,2,-3,4,-2,3,-4,2,-3,
    4,-2,3,-4,1,-3,4,-2,3,-4, 2,-3,4,-2,3,-4,2,-1,3,-4, 4,-3,2,-4,3,-2,4,-3,1,-4, 3,-2,4,-3,2,-4,3,-2,4,-3,
    4,-5,3,-4,5,-2,4,-5,3,-4, 5,-3,4,-5,2,-4,5,-3,4,-5, 3,-4,5,-3,4,-5,2,-4,5,-3, 4,-5,3,-4,5,-3,4,-2,5,-4,
    3,-5,4,-3,5,-4,2,-5,4,-3, 5,-4,3,-5,4,-2,5,-3,4,-5, 3,-4,5,-3,4,-5,3,-4,2,-5, 4,-3,5,-4,3,-5,4,-2,5,-4,
    3,-5,4,-3,5,-4,2,-5,4,-3, 5,-4,3,-5,4,-2,5,-3,4,-5, 3,-4,5,-3,4,-5,3,-4,5,-6, 5,-4,4,-5,-8,
]

traces = [rb5e8, rb30c, cca1, rd93e, r82bd, r7fa5, r0353]
station_labels = [
    "RB5E8 74.21° Penzance",
    "RB30C 74.15° Falmouth",
    "CCA1 74.12° Carnmenellis",
    "RD93E 74.08° Redruth",
    "R82BD 74.04° Richard Lander",
    "R7FA5 74.04° Truro School",
    "R0353 74.03° Penair",
]

# phase arrival times [s] per station
p_times = [697.05, 696.65, 696.5, 696.3, 696.1, 696.05, 695.9]
pp_depth_times = [700.35, 700.0, 699.8, 699.45, 699.25, 699.25, 699.05]
pcp_times = [711.75, 711.35, 711.15, 710.8, 710.6, 710.6, 710.55]
pp_times = [862.3, 861.7, 861.5, 861.1, 860.9, 860.75, 860.7]

# y limits and tick step per panel, units of 1e-7 m/s
y_low = [-5.87, -2.51, -2.13, -2.72, -5.08, -6.06, -5.78]
y_high = [6.02, 2.56, 2.15, 2.70, 5.21, 6.08, 5.72]
y_tick = [5, 2, 2, 2, 5, 5, 5]

x_ticks = [650, 700, 750, 800, 850, 900]

phases = [
    ("P", p_times, "rgba(31,119,180,0.5)"),
    ("pP", pp_depth_times, "rgba(255,127,14,0.5)"),
    ("PcP", pcp_times, "rgba(166,206,227,0.5)"),
    ("PP", pp_times, "rgba(148,103,189,0.7)"),
]

# target layout in window pixels; the page body adds an 8px margin
OFF = 8
L, R, T, B = 152, 1824, 88, 1012
W, H = 1900 - OFF, 1100 - OFF


def px(x):
    return (x - L) / (R - L)


def py(y):
    return (B - y) / (B - T)


n = len(traces)
fig = make_subplots(rows=n, cols=1, shared_xaxes=True, vertical_spacing=0)

for k in range(n):
    vals = traces[k]
    fig.add_trace(go.Scatter(
        x=[t_start + t_step * i for i in range(len(vals))],
        y=[v * amp_unit for v in vals],
        mode="lines",
        line=dict(color="#1f77b4", width=1),
        hoverinfo="skip",
    ), row=k + 1, col=1)

    ax = "" if k == 0 else str(k + 1)
    v = y_tick[k] * 1e-7
    fig.update_yaxes(
        range=[y_low[k] * 1e-7, y_high[k] * 1e-7],
        tickvals=[-v, 0, v],
        ticktext=[f"{-v:.1e}", f"{0:.1e}", f"{v:.1e}"],
        row=k + 1, col=1,
    )

    for name, times, color in phases:
        fig.add_shape(
            type="line", xref="x" + ax, yref="y" + ax + " domain",
            x0=times[k], x1=times[k], y0=0, y1=1,
            line=dict(color=color, width=1.5, dash="8px,3.5px"),
        )
        fig.add_annotation(
            x=times[k], xref="x" + ax, y=0, yref="y" + ax + " domain",
            text=name, showarrow=False, xanchor="right", yanchor="bottom",
            xshift=-3, yshift=-2,
            font=dict(size=15.5, color=color),
        )

    fig.add_annotation(
        x=px(168), xref="paper", y=1, yref="y" + ax + " domain",
        text=station_labels[k], showarrow=False, xanchor="left", yanchor="top",
        yshift=-1, font=dict(size=13.5, color="black"),
    )

fig.update_xaxes(
    range=[646.22, 934.67], tickvals=x_ticks,
    ticks="inside", ticklen=5, tickcolor="black",
    showline=True, linecolor="black", linewidth=1, mirror="ticks",
    showgrid=False, zeroline=False,
)
fig.update_yaxes(
    ticks="inside", ticklen=5, tickcolor="black",
    showline=True, linecolor="black", linewidth=1, mirror="ticks",
    showgrid=False, zeroline=False,
)

title_lines = [
    "M6.1 95km W of Nikolskoye, Russia 2018-12-24 12:41:19.250000",
    "from the Raspberry Shake Network and BGS seismometers CCA1, HTL & DYA",
    "depth: 10.0 km, distance: 8259.0 km.",
]
for line, ypix in zip(title_lines, [16, 33, 50]):
    fig.add_annotation(x=px(950), y=py(ypix), xref="paper", yref="paper",
                       text=line, showarrow=False, xanchor="center", yanchor="middle")

fig.add_annotation(x=px(18), y=py(558), xref="paper", yref="paper",
                   text="Velocity [m/s]", textangle=-90, showarrow=False,
                   xanchor="center", yanchor="middle")
fig.add_annotation(x=px(19), y=py(1082), xref="paper", yref="paper",
                   text='Channel: EHZ, filter: "bandpass", freqmin=1.3, freqmax=3.3, corners=4',
                   showarrow=False, xanchor="left", yanchor="middle")
fig.add_annotation(x=px(950), y=py(1082), xref="paper", yref="paper",
                   text="Time since earthquake [s]", showarrow=False,
                   xanchor="center", yanchor="middle")

arrival_lines = [
    ("First Arrivals at R7FA5", "black"),
    ("P time: 696.0s", "#1f77b4"),
    ("pP time: 699.28s", "#ff7f0e"),
    ("PcP time: 710.95s", "#a6cee3"),
]
for (line, color), ypix in zip(arrival_lines, [1052, 1065, 1078.5, 1091]):
    fig.add_annotation(x=px(1520), y=py(ypix), xref="paper", yref="paper",
                       text=line, showarrow=False, xanchor="left", yanchor="middle",
                       font=dict(color=color))

fig.update_layout(
    width=W, height=H,
    margin=dict(l=L - OFF, r=1900 - R, t=T - OFF, b=1100 - B),
    plot_bgcolor="white", paper_bgcolor="white",
    showlegend=False,
    font=dict(family="DejaVu Sans", size=13.5, color="black"),
)

fig.write_html("out.html")
